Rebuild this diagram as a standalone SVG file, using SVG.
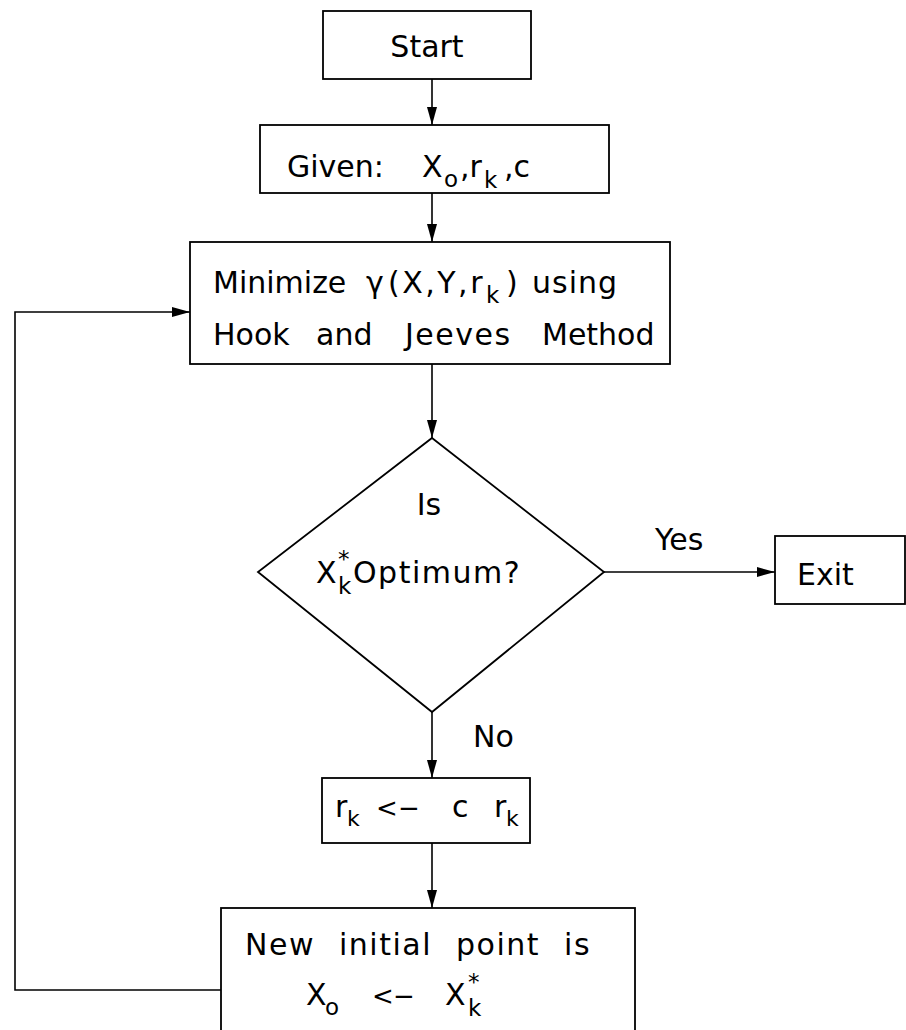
<svg xmlns="http://www.w3.org/2000/svg" width="906" height="1030" viewBox="0 0 906 1030">
<style>
.box{fill:#fff;stroke:#000;stroke-width:1.8}
.ln{fill:none;stroke:#000;stroke-width:1.6}
.t{font-family:"DejaVu Sans","Liberation Sans",sans-serif;font-size:30px;fill:#000}
.sub{font-size:23px}
</style>
<defs>
<marker id="ah" markerUnits="userSpaceOnUse" markerWidth="20" markerHeight="12" refX="18" refY="5" orient="auto">
<path d="M0,0 L18,5 L0,10 Z" fill="#000"/>
</marker>
</defs>
<rect width="906" height="1030" fill="#fff"/>
<g id="connectors">
<line class="ln" x1="432" y1="79" x2="432" y2="125" marker-end="url(#ah)"/>
<line class="ln" x1="432" y1="193" x2="432" y2="242" marker-end="url(#ah)"/>
<line class="ln" x1="432" y1="364" x2="432" y2="438" marker-end="url(#ah)"/>
<line class="ln" x1="604" y1="572" x2="775" y2="572" marker-end="url(#ah)"/>
<line class="ln" x1="432" y1="712" x2="432" y2="778" marker-end="url(#ah)"/>
<line class="ln" x1="432" y1="843" x2="432" y2="908" marker-end="url(#ah)"/>
<polyline class="ln" points="221,990 15,990 15,312 190,312" marker-end="url(#ah)"/>
<text class="t" x="655" y="550">Yes</text>
<text class="t" x="473" y="747" font-size="28">No</text>
</g>
<g id="start">
<rect class="box" x="323" y="11" width="208" height="68"/>
<text class="t" x="427" y="57" font-size="34" text-anchor="middle">Start</text>
</g>
<g id="given">
<rect class="box" x="260" y="125" width="349" height="68"/>
<text class="t" x="287" y="177" font-size="32">Given:<tspan x="422">X</tspan><tspan class="sub" x="444" dy="10">o</tspan><tspan x="460" dy="-10">,r</tspan><tspan class="sub" x="484" dy="11">k</tspan><tspan x="504" dy="-11">,c</tspan></text>
</g>
<g id="minimize">
<rect class="box" x="190" y="242" width="480" height="122"/>
<text class="t" x="213" y="293" font-size="31">Minimize<tspan x="366">γ</tspan><tspan x="388" letter-spacing="2.5">(X,Y,r</tspan><tspan class="sub" x="486" dy="10">k</tspan><tspan x="506" dy="-10">)</tspan><tspan x="532" letter-spacing="1">using</tspan></text>
<text class="t" x="213" y="345" font-size="31">Hook<tspan x="316">and</tspan><tspan x="405" letter-spacing="1.5">Jeeves</tspan><tspan x="542">Method</tspan></text>
</g>
<g id="decision">
<polygon class="box" points="432,438 604,572 432,712 258,572"/>
<text class="t" x="429" y="515" text-anchor="middle">Is</text>
<text class="t" x="316" y="583" font-size="34">X<tspan class="sub" x="338" y="567">*</tspan><tspan class="sub" x="338" y="594">k</tspan><tspan x="353" y="583" letter-spacing="1.5">Optimum?</tspan></text>
</g>
<g id="exit">
<rect class="box" x="775" y="536" width="130" height="68"/>
<text class="t" x="797" y="585" font-size="32">Exit</text>
</g>
<g id="update">
<rect class="box" x="322" y="778" width="208" height="65"/>
<text class="t" x="335" y="817">r<tspan font-size="22" x="347" dy="9">k</tspan><tspan font-size="26" x="376" dy="-9">&lt;</tspan><tspan font-size="26" x="398">−</tspan><tspan x="452">c</tspan><tspan x="494">r</tspan><tspan font-size="22" x="506" dy="9">k</tspan></text>
</g>
<g id="newpoint">
<rect class="box" x="221" y="908" width="414" height="140"/>
<text class="t" x="245" y="955" letter-spacing="1.5" word-spacing="13">New initial point is</text>
<text class="t" x="306" y="1005">X<tspan class="sub" x="325" dy="10">o</tspan><tspan x="372" dy="-10" font-size="26">&lt;</tspan><tspan x="393" font-size="26">−</tspan><tspan x="445">X</tspan><tspan class="sub" x="468" y="990">*</tspan><tspan class="sub" x="468" y="1016">k</tspan></text>
</g>
</svg>
